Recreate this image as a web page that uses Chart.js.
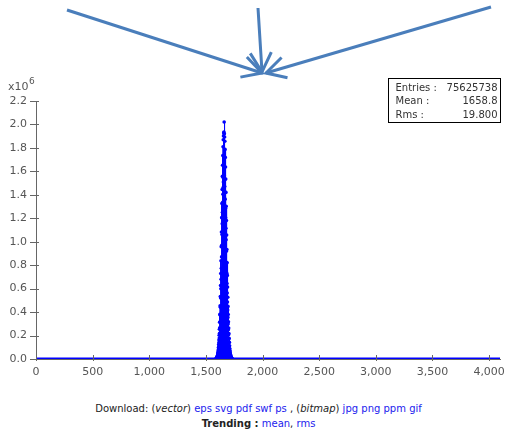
<!DOCTYPE html>
<html>
<head>
<meta charset="utf-8">
<script src="https://cdn.jsdelivr.net/npm/chart.js@4/dist/chart.umd.min.js"></script>
<style>
  html, body { margin: 0; padding: 0; background: #fff; }
  #wrap { position: relative; width: 505px; height: 432px; }
  #c { position: absolute; left: 0; top: 0; }
  .info { position: absolute; left: 0; width: 517px; text-align: center; font-family: "DejaVu Sans", Verdana, sans-serif; font-size: 10px; color: #222; }
  .info a { color: #2222ee; text-decoration: none; }
</style>
</head>
<body>
<div id="wrap">
  <canvas id="c" width="505" height="385"></canvas>
  <div class="info" style="top:403px;">Download: (<i>vector</i>) <a>eps</a> <a>svg</a> <a>pdf</a> <a>swf</a> <a>ps</a> , (<i>bitmap</i>) <a>jpg</a> <a>png</a> <a>ppm</a> <a>gif</a></div>
  <div class="info" style="top:418px;"><b>Trending :</b> <a>mean</a>, <a>rms</a></div>
</div>
<script>
// ---- data ----
const xRange = [0, 4096];
const yRange = [0, 2200000];
const xTickValues = [0, 500, 1000, 1500, 2000, 2500, 3000, 3500, 4000];
const yTickValues = [0, 200000, 400000, 600000, 800000, 1000000, 1200000, 1400000, 1600000, 1800000, 2000000, 2200000];
const peakFirstBin = 1590;
const peakCounts = [
  3300, 5500, 4500, 7200, 6100, 10800, 8500, 14900, 11900, 18500,
  17200, 25300, 22900, 33500, 31000, 46000, 41200, 59500, 53900, 76200,
  69100, 99200, 88400, 126500, 112100, 161700, 141800, 202700, 179600, 253100,
  219500, 312900, 266700, 380100, 316100, 452600, 375900, 533400, 442100, 626900,
  520800, 728700, 599600, 837900, 680400, 957600, 773900, 1082600, 870500, 1205400,
  970200, 1325100, 1061600, 1444800, 1152900, 1557200, 1251600, 1652700, 1336700, 1734600,
  1404900, 1810200, 1461600, 1870100, 1508900, 1902600, 1541400, 1927800, 1553000, 1935200,
  1601300, 2021000, 1565600, 1920500, 1524600, 1893200, 1471100, 1856400, 1423800, 1787100,
  1362900, 1718900, 1285200, 1637000, 1204400, 1535100, 1115100, 1420700, 1016400, 1303100,
  919800, 1180200, 824300, 1056300, 731900, 933500, 643700, 820100, 562800, 713000,
  485100, 613200, 417900, 526100, 354900, 448400, 299300, 379100, 249900, 317100,
  206900, 263600, 170100, 217400, 138600, 176400, 111300, 141800, 88200, 112400,
  69300, 87200, 53600, 67200, 41000, 50400, 30500, 37800, 23100, 28400,
  16800, 20500, 12600, 15200, 9100, 11100, 6600, 8000, 4700, 5700, 3400
];
const baselineX = [0, 4096];
const baselineY = [0, 0];
const statLabels = ["Entries :", "Mean :", "Rms :"];
const statValues = ["75625738", "1658.8", "19.800"];

// ---- build ----
const peakPoints = peakCounts.map((v, i) => ({ x: peakFirstBin + i, y: v }));
const basePoints = baselineX.map((x, i) => ({ x: x, y: baselineY[i] }));

const FONT = '"DejaVu Sans", Verdana, sans-serif';

const decor = {
  id: 'decor',
  afterDraw(chart) {
    const ctx = chart.ctx;
    const xs = chart.scales.x, ys = chart.scales.y;
    const area = chart.chartArea;
    ctx.save();
    // tick marks
    ctx.strokeStyle = '#666';
    ctx.lineWidth = 1;
    xs.ticks.forEach(t => {
      const px = Math.round(xs.getPixelForValue(t.value)) + 0.5;
      ctx.beginPath(); ctx.moveTo(px, area.bottom - 4); ctx.lineTo(px, area.bottom + 2); ctx.stroke();
    });
    ys.ticks.forEach(t => {
      const py = Math.round(ys.getPixelForValue(t.value)) + 0.5;
      ctx.beginPath(); ctx.moveTo(area.left - 6, py); ctx.lineTo(area.left + 3, py); ctx.stroke();
    });
    // x10^6 label
    ctx.fillStyle = '#555';
    ctx.font = '11px ' + FONT;
    ctx.textBaseline = 'alphabetic';
    ctx.textAlign = 'left';
    ctx.fillText('x10', 8, 90);
    ctx.font = '9px ' + FONT;
    ctx.fillText('6', 29, 84);
    // stats box
    const bx = 388.5, by = 78.5, bw = 112, bh = 44;
    ctx.fillStyle = '#fff';
    ctx.fillRect(bx, by, bw, bh);
    ctx.strokeStyle = '#000';
    ctx.strokeRect(bx, by, bw, bh);
    ctx.fillStyle = '#333';
    ctx.font = '10px ' + FONT;
    statLabels.forEach((l, i) => {
      const yy = by + 12 + i * 13.5;
      ctx.textAlign = 'left';
      ctx.fillText(l, bx + 7, yy);
      ctx.textAlign = 'right';
      ctx.fillText(statValues[i], bx + bw - 3, yy);
    });
    // arrows
    ctx.strokeStyle = '#4a7ebb';
    ctx.lineWidth = 3;
    ctx.lineCap = 'butt';
    function arrow(x1, y1, x2, y2) {
      ctx.beginPath(); ctx.moveTo(x1, y1); ctx.lineTo(x2, y2); ctx.stroke();
      const a = Math.atan2(y2 - y1, x2 - x1), L = 22, s = 0.5;
      ctx.beginPath();
      ctx.moveTo(x2 - L * Math.cos(a - s), y2 - L * Math.sin(a - s));
      ctx.lineTo(x2, y2);
      ctx.lineTo(x2 - L * Math.cos(a + s), y2 - L * Math.sin(a + s));
      ctx.stroke();
    }
    arrow(67, 10, 262, 73);
    arrow(258, 8, 262, 72);
    arrow(491, 7, 266, 73);
    ctx.restore();
  }
};

new Chart(document.getElementById('c'), {
  type: 'line',
  data: {
    datasets: [
      {
        data: peakPoints,
        borderColor: '#0000ff',
        backgroundColor: '#0000ff',
        borderWidth: 1,
        pointRadius: 1.8,
        pointBorderWidth: 0,
        pointBackgroundColor: '#0000ff',
        fill: 'origin',
        tension: 0
      },
      {
        data: basePoints,
        borderColor: '#0000ff',
        borderWidth: 3,
        pointRadius: 0,
        fill: false
      }
    ]
  },
  options: {
    responsive: false,
    animation: false,
    events: [],
    layout: { padding: { top: 101, right: 5, left: 0, bottom: 0 } },
    plugins: { legend: { display: false }, tooltip: { enabled: false } },
    scales: {
      x: {
        type: 'linear',
        min: xRange[0], max: xRange[1],
        grid: { display: false, drawTicks: false },
        border: { display: true, color: '#666' },
        afterBuildTicks: s => { s.ticks = xTickValues.map(v => ({ value: v })); },
        ticks: {
          maxRotation: 0, autoSkip: false,
          color: '#555', font: { family: FONT, size: 11 }, padding: 7,
          callback: v => v.toLocaleString('en-US')
        },
        afterFit: s => { s.height = 26; s.paddingLeft = 0; s.paddingRight = 0; }
      },
      y: {
        type: 'linear',
        min: yRange[0], max: yRange[1],
        grid: { display: false, drawTicks: false },
        border: { display: true, color: '#666' },
        afterBuildTicks: s => { s.ticks = yTickValues.map(v => ({ value: v })); },
        ticks: {
          autoSkip: false,
          color: '#555', font: { family: FONT, size: 11 }, padding: 9,
          callback: v => (v / 1e6).toFixed(1)
        },
        afterFit: s => { s.width = 36; s.paddingTop = 0; s.paddingBottom = 0; }
      }
    }
  },
  plugins: [decor]
});
</script>
</body>
</html>
